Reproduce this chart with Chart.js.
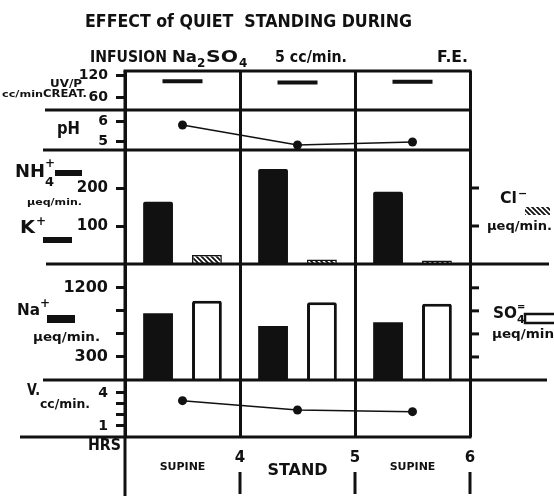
<!DOCTYPE html>
<html>
<head>
<meta charset="utf-8">
<script src="https://cdn.jsdelivr.net/npm/chart.js@4.4.1/dist/chart.umd.min.js"></script>
<style>
  html, body { margin: 0; padding: 0; background: #fff; }
</style>
</head>
<body>
<canvas id="fig" width="554" height="496"></canvas>
<script>
// periods of the experiment (one column each) and hour marks between them
var periods = ['SUPINE', 'STAND', 'SUPINE'];
var hours = ['4', '5', '6'];

// values
var uvpCreat = [103, 100, 102];   // UV/P creatinine, cc/min
var urinePH = [5.8, 4.8, 4.95];
var nh4K = [164, 250, 190];       // NH4+ + K+, ueq/min
var chloride = [24, 12, 9];       // Cl-, ueq/min
var sodium = [870, 704, 752];     // Na+, ueq/min
var sulfate = [1030, 1013, 991];  // SO4=, ueq/min
var flowV = [3.3, 2.45, 2.3];     // V, cc/min

// tick values / labelled ticks per panel
var uvpTicks = [60, 120];
var phTicks = [5, 6];
var ionTicks = [100, 200];
var naTicks = [300, 600, 900, 1200];
var naLabels = [300, 1200];
var vTicks = [1, 2, 3, 4];
var vLabels = [1, 4];

var FONT = '"DejaVu Sans", "Liberation Sans", sans-serif';
var INK = '#111';

function hatch() {
  var c = document.createElement('canvas');
  c.width = 5; c.height = 5;
  var g = c.getContext('2d');
  g.fillStyle = '#fff';
  g.fillRect(0, 0, 5, 5);
  g.strokeStyle = INK;
  g.lineWidth = 1.8;
  g.beginPath();
  g.moveTo(-1, -1); g.lineTo(6, 6);
  g.moveTo(-1, 4); g.lineTo(1, 6);
  g.moveTo(4, -1); g.lineTo(6, 1);
  g.stroke();
  return g.createPattern(c, 'repeat');
}
var hatchFill = hatch();

function yAxis(min, max, h, order, ticks, shown, size) {
  return {
    type: 'linear',
    position: 'left',
    stack: 'panels',
    stackWeight: h,
    weight: order,
    min: min,
    max: max,
    border: { display: false },
    grid: { drawOnChartArea: false, drawTicks: true, tickLength: 9, tickWidth: 3, color: INK },
    ticks: {
      color: INK,
      padding: 8,
      autoSkip: false,
      font: { family: FONT, size: size, weight: 'bold' },
      callback: function(v) { return shown.indexOf(v) >= 0 ? String(v) : ''; }
    },
    afterBuildTicks: function(s) { s.ticks = ticks.map(function(v) { return { value: v }; }); },
    afterFit: function(s) {
      // fixed width so every panel shares the same left edge
      s.width = 120;
      s.paddingTop = 0; s.paddingBottom = 0; s.paddingLeft = 0; s.paddingRight = 0;
    }
  };
}

// text helper: bold text squeezed/stretched to a given width
function txt(ctx, str, x, y, size, w, align) {
  ctx.save();
  ctx.font = 'bold ' + size + 'px ' + FONT;
  ctx.fillStyle = INK;
  ctx.textBaseline = 'alphabetic';
  ctx.textAlign = align || 'left';
  var m = ctx.measureText(str).width;
  ctx.translate(x, y);
  if (w) ctx.scale(w / m, 1);
  ctx.fillText(str, 0, 0);
  ctx.restore();
}

function hline(ctx, x1, x2, y) {
  ctx.beginPath();
  ctx.moveTo(x1, y);
  ctx.lineTo(x2, y);
  ctx.stroke();
}

var figure = {
  id: 'figure',
  afterDraw: function(chart) {
    var ctx = chart.ctx;
    var a = chart.chartArea;
    var s = chart.scales;
    ctx.save();
    ctx.strokeStyle = INK;
    ctx.lineWidth = 3;
    ctx.lineCap = 'butt';

    // frame and panel separators
    hline(ctx, a.left - 1.5, a.right + 1.5, a.top);
    hline(ctx, 45, a.right, s.yPH.top);
    hline(ctx, 43, a.right, s.yIon.top);
    hline(ctx, 46, 549, s.yNa.top);
    hline(ctx, 43, 547, s.yV.top);
    hline(ctx, 20, a.right + 1.5, a.bottom);
    ctx.beginPath();
    ctx.moveTo(a.left, a.top); ctx.lineTo(a.left, chart.height);
    ctx.stroke();

    // right-hand ticks for Cl- and SO4=
    ionTicks.forEach(function(v) {
      var y = s.yIon.getPixelForValue(v);
      hline(ctx, a.right, a.right + 9, y);
    });
    naTicks.forEach(function(v) {
      var y = s.yNa.getPixelForValue(v);
      hline(ctx, a.right, a.right + 9, y);
    });

    // hour marks under the period boundaries
    var step = s.x.getPixelForValue(1) - s.x.getPixelForValue(0);
    hours.forEach(function(hr, i) {
      var x = s.x.getPixelForValue(i) + step / 2;
      txt(ctx, hr, x, 462, 15, 0, 'center');
      ctx.beginPath();
      ctx.moveTo(x, 472); ctx.lineTo(x, 494);
      ctx.stroke();
    });
    txt(ctx, 'HRS', 88, 450, 15, 33);

    // title
    txt(ctx, 'EFFECT of QUIET  STANDING DURING', 85, 27, 18, 327);
    txt(ctx, 'INFUSION', 90, 62, 16, 77);
    txt(ctx, 'Na', 172, 62, 16, 25);
    txt(ctx, '2', 197, 67, 12);
    txt(ctx, 'SO', 206, 62, 16, 32);
    txt(ctx, '4', 239, 67, 12);
    txt(ctx, '5 cc/min.', 275, 62, 15, 72);
    txt(ctx, 'F.E.', 437, 62, 16, 31);

    // left panel labels
    txt(ctx, 'UV/P', 50, 87, 10, 32);
    txt(ctx, 'cc/min', 2, 97, 8, 41);
    txt(ctx, 'CREAT.', 43, 97, 10, 44);
    txt(ctx, 'pH', 57, 134, 17, 23);

    txt(ctx, 'NH', 15, 177, 18, 30);
    txt(ctx, '+', 45, 167, 12);
    txt(ctx, '4', 45, 186, 13);
    ctx.fillStyle = INK;
    ctx.fillRect(55, 170, 27, 6);
    txt(ctx, '\u00b5eq/min.', 27, 205, 9, 55);
    txt(ctx, 'K', 20, 233, 18, 15);
    txt(ctx, '+', 36, 225, 12);
    ctx.fillRect(43, 237, 29, 6);

    txt(ctx, 'Na', 17, 315, 16, 23);
    txt(ctx, '+', 40, 307, 12);
    ctx.fillRect(47, 315, 28, 8);
    txt(ctx, '\u00b5eq/min.', 33, 341, 13, 67);

    txt(ctx, 'V.', 27, 395, 16, 13);
    txt(ctx, 'cc/min.', 40, 408, 13, 50);

    // right panel labels
    txt(ctx, 'Cl', 500, 203, 15, 17);
    txt(ctx, '\u2212', 518, 197, 11);
    ctx.fillStyle = hatchFill;
    ctx.fillRect(525, 207, 25, 8);
    txt(ctx, '\u00b5eq/min.', 487, 230, 13, 65);

    txt(ctx, 'SO', 493, 318, 15, 24);
    txt(ctx, '=', 517, 310, 10);
    txt(ctx, '4', 517, 323, 11);
    ctx.lineWidth = 2.5;
    ctx.strokeRect(525, 314, 32, 9);
    txt(ctx, '\u00b5eq/min', 492, 338, 13, 62);

    ctx.restore();
  }
};

var config = {
  type: 'bar',
  data: {
    labels: periods,
    datasets: [{
      label: 'NH4+ K+',
      data: nh4K,
      yAxisID: 'yIon',
      stack: 'a',
      backgroundColor: INK,
      borderWidth: 0,
      borderRadius: 2
    }, {
      label: 'Cl-',
      data: chloride,
      yAxisID: 'yIon',
      stack: 'b',
      backgroundColor: hatchFill,
      borderColor: INK,
      borderWidth: 1.5
    }, {
      label: 'Na+',
      data: sodium,
      yAxisID: 'yNa',
      stack: 'a',
      backgroundColor: INK,
      borderWidth: 0
    }, {
      label: 'SO4=',
      data: sulfate,
      yAxisID: 'yNa',
      stack: 'b',
      backgroundColor: '#fff',
      borderColor: INK,
      borderWidth: 3,
      borderRadius: 2,
      borderSkipped: 'bottom'
    }, {
      type: 'line',
      label: 'pH',
      data: urinePH,
      yAxisID: 'yPH',
      borderColor: INK,
      borderWidth: 1.5,
      pointRadius: 4.5,
      pointBackgroundColor: INK,
      pointBorderWidth: 0
    }, {
      type: 'line',
      label: 'V',
      data: flowV,
      yAxisID: 'yV',
      borderColor: INK,
      borderWidth: 1.5,
      pointRadius: 4.5,
      pointBackgroundColor: INK,
      pointBorderWidth: 0
    }, {
      type: 'line',
      label: 'UV/P creat.',
      data: uvpCreat,
      yAxisID: 'yUV',
      showLine: false,
      pointStyle: 'line',
      pointRadius: 20,
      pointBorderWidth: 4,
      pointBorderColor: INK
    }]
  },
  options: {
    responsive: false,
    animation: false,
    events: [],
    devicePixelRatio: 1,
    layout: { padding: { left: 5, right: 84, top: 71, bottom: 0 } },
    categoryPercentage: 0.85,
    barPercentage: 0.61,
    plugins: {
      legend: { display: false },
      tooltip: { enabled: false },
      title: { display: false }
    },
    scales: {
      x: {
        type: 'category',
        offset: true,
        border: { display: false },
        grid: { offset: true, drawTicks: false, color: INK, lineWidth: 3 },
        ticks: {
          color: INK,
          padding: 24,
          font: function(c) {
            return c.index === 1
              ? { family: FONT, size: 16, weight: 'bold' }
              : { family: FONT, size: 11, weight: 'bold' };
          }
        },
        afterFit: function(s) {
          s.height = 59;
          s.paddingLeft = 0; s.paddingRight = 0;
        }
      },
      yUV: yAxis(25, 131, 39, 5, uvpTicks, uvpTicks, 14),
      yPH: yAxis(4.55, 6.55, 40, 4, phTicks, phTicks, 14),
      yIon: yAxis(0, 300, 114, 3, ionTicks, ionTicks, 15),
      yNa: yAxis(0, 1510, 116, 2, naTicks, naLabels, 16),
      yV: yAxis(0, 5.18, 57, 1, vTicks, vLabels, 14)
    }
  },
  plugins: [figure]
};

window.onload = function() {
  var ctx = document.getElementById('fig').getContext('2d');
  window.figChart = new Chart(ctx, config);
};
</script>
</body>
</html>
